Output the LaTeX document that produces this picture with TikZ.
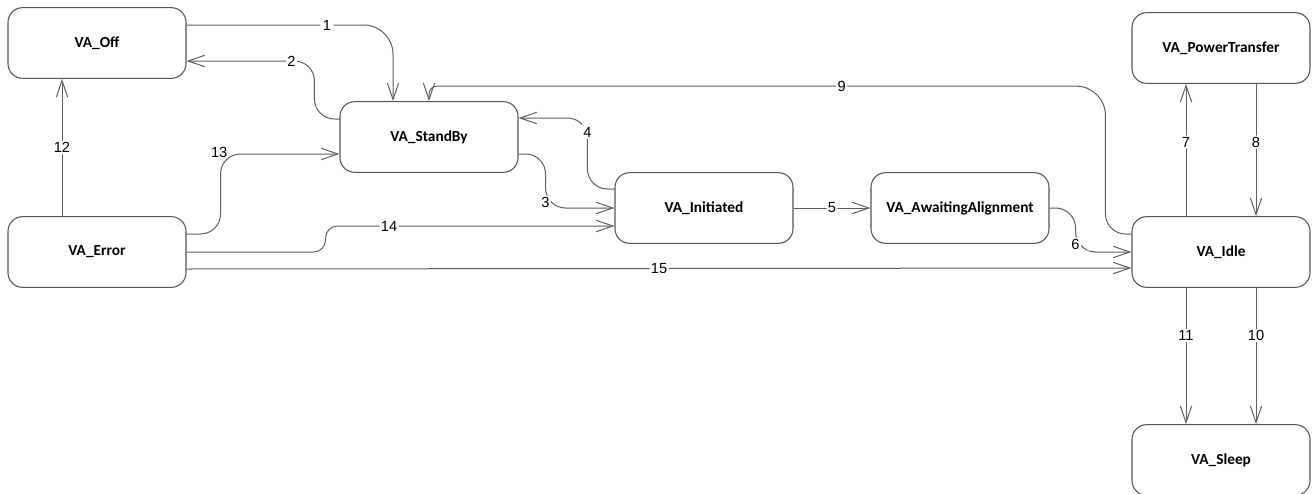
\documentclass[tikz,border=0pt]{standalone}
\usepackage{fontspec}
\usetikzlibrary{calc}
\usetikzlibrary{arrows.meta}
\newfontfamily\statefont{Carlito}
\newfontfamily\numfont{Liberation Sans}
\definecolor{edgegray}{RGB}{95,95,95}
\definecolor{boxgray}{RGB}{85,85,85}
\newcommand*{\boxw}{133.5pt}
\newcommand*{\boxh}{53pt}
\newcommand*{\off }{35}

\begin{document}
\begin{tikzpicture}[x=0.75pt, y=-0.75pt,
    state/.style={draw=boxgray, line width=0.8pt, rounded corners=11pt, minimum width=\boxw, minimum height=\boxh, inner sep=0pt, font=\statefont\bfseries\fontsize{11.5}{13}\selectfont},
    trans/.style={draw=edgegray, line width=0.75pt, rounded corners=15pt, -{Straight Barb[length=12.5pt,width=8.5pt]}},
    lbl/.style={fill=white, inner sep=1pt, text=black, font=\numfont\fontsize{11}{13}\selectfont}]
    \useasboundingbox (0,0) rectangle (1316,493);
    \clip (0,0) rectangle (1316,493);
    \fill [white] (0,0) rectangle (1316,493);
        % states
        \node [state] (off)       at (  97, 43) {VA\_Off};
        \node [state] (standby)   at ( 429,137) {VA\_StandBy};
        \node [state] (error)     at (  97,252) {VA\_Error};
        \node [state] (initiated) at ( 704,208) {VA\_Initiated};
        \node [state] (awaiting)  at ( 960,208) {VA\_AwaitingAlignment};
        \node [state] (idle)      at (1221,252) {VA\_Idle};
        \node [state] (power)     at (1221, 48) {VA\_PowerTransfer};
        \node [state] (sleep)     at (1221,460) {VA\_Sleep};
        % bends of transition 9
        \coordinate (turn9) at ($(idle.west)+(-26,-18)$);
        \coordinate (top9)  at ($(standby.north)+(0,-15)$);
        % transitions
        \draw [trans, rounded corners=22pt] ($(off.east)+(0,-18)$) -| node [lbl, pos=0.34] {1} ($(standby.north)+(-36,0)$);
        \draw [trans] ($(standby.west)+(0,-18)$) -- ++(-25,0) |- node [lbl, pos=0.59] {2} ($(off.east)+(0,18)$);
        \draw [trans] ($(standby.east)+(0,17)$) -- ++(27,0) |- node [lbl, pos=0.45] {3} (initiated.west);
        \draw [trans] ($(initiated.west)+(0,-19)$) -- ++(-27,0) |- node [lbl, pos=0.4] {4} ($(standby.east)+(0,-19)$);
        \draw [trans] (initiated) -- node [lbl] {5} (awaiting);
        \draw [trans] (awaiting.east) -- ++(26,0) |- node [lbl, pos=0.41] {6} (idle.west);
        \draw [trans] ($(idle.north)+(-\off,0)$) -- node [lbl, pos=0.56] {7} ($(power.south)+(-\off,0)$);
        \draw [trans] ($(power.south)+(\off,0)$) -- node [lbl, pos=0.44] {8} ($(idle.north)+(\off,0)$);
        \draw [trans] ($(idle.west)+(0,-18)$) -- (turn9) [rounded corners=22pt] -- (turn9 |- top9) [rounded corners=6pt] -- node [lbl, pos=0.39] {9} (top9) -- (standby.north);
        \draw [trans] ($(idle.south)+(\off,0)$) -- node [lbl, pos=0.35] {10} ($(sleep.north)+(\off,0)$);
        \draw [trans] ($(idle.south)+(-\off,0)$) -- node [lbl, pos=0.35] {11} ($(sleep.north)+(-\off,0)$);
        \draw [trans] ($(error.north)+(-\off,0)$) -- node [lbl] {12} ($(off.south)+(-\off,0)$);
        \draw [trans] ($(error.east)+(0,-18)$) -- ++(34,0) |- node [lbl, fill=none, pos=0.5, xshift=-1pt, yshift=1pt] {13} ($(standby.west)+(0,17)$);
        \draw [trans, rounded corners=9pt] (error.east) -- ++(139,0) |- node [lbl, pos=0.61] {14} ($(initiated.west)+(0,18)$);
        \draw [trans] ($(error.east)+(0,17)$) -- node [lbl] {15} ($(idle.west)+(0,16)$);
    \end{tikzpicture}
\end{document}
